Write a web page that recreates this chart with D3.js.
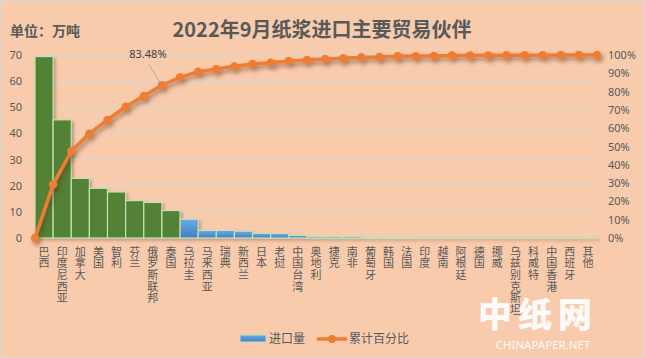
<!DOCTYPE html>
<html><head><meta charset="utf-8">
<script src="https://cdn.jsdelivr.net/npm/d3@7"></script>
<style>
html,body{margin:0;padding:0;background:#F8CBAD;}
svg{display:block;font-family:"Noto Sans CJK SC","Noto Sans",sans-serif;}
</style></head>
<body>
<svg id="chart" width="645" height="358"></svg>
<script>
const categories = ["巴西","印度尼西亚","加拿大","美国","智利","芬兰","俄罗斯联邦","泰国","乌拉圭","马来西亚","瑞典","新西兰","日本","老挝","中国台湾","奥地利","捷克","南非","葡萄牙","韩国","法国","印度","越南","阿根廷","德国","挪威","乌兹别克斯坦","科威特","中国香港","西班牙","其他"];
const importVolume = [69.4,45.2,22.8,19.0,17.6,14.3,13.6,10.5,7.2,2.9,2.9,2.6,1.8,1.7,1.0,0.6,0.6,0.6,0.3,0.3,0.3,0.1,0.1,0.1,0.1,0.1,0.1,0.1,0.1,0.1,0.15];
const cumulativePct = [0,29.3,47.5,57.0,64.5,71.7,77.6,83.48,87.8,90.9,92.3,93.8,95.1,95.8,96.7,97.3,97.8,98.2,98.7,98.9,99.3,99.4,99.5,99.7,99.75,99.8,99.85,99.9,99.93,99.96,99.98,100];
const leftTicks = [0,10,20,30,40,50,60,70];
const rightTicks = [0,10,20,30,40,50,60,70,80,90,100];
const greenCount = 8;
const title = "2022年9月纸浆进口主要贸易伙伴";
const unitLabel = "单位：万吨";
const calloutIndex = 7;
const calloutText = "83.48%";
const legendLabels = ["进口量","累计百分比"];

const svg = d3.select("#chart");
const W = 645, H = 358;
const x0 = 35, x1 = 597, yTop = 55, yBot = 238;

const defs = svg.append("defs");
const grad = defs.append("linearGradient").attr("id","blueGrad").attr("x1",0).attr("y1",0).attr("x2",0).attr("y2",1);
grad.append("stop").attr("offset","0%").attr("stop-color","#6DAAE0");
grad.append("stop").attr("offset","100%").attr("stop-color","#3F80C6");
const sh = defs.append("filter").attr("id","shadow").attr("x","-20%").attr("y","-20%").attr("width","140%").attr("height","140%");
sh.append("feDropShadow").attr("dx",2).attr("dy",2).attr("stdDeviation",1.5).attr("flood-color","#6b3a1a").attr("flood-opacity",0.35);
const sh2 = defs.append("filter").attr("id","lshadow").attr("x","-5%").attr("y","-20%").attr("width","110%").attr("height","160%");
sh2.append("feDropShadow").attr("dx",2).attr("dy",3).attr("stdDeviation",2).attr("flood-color","#5a2a10").attr("flood-opacity",0.5);

svg.append("rect").attr("x",0.5).attr("y",0.5).attr("width",W-1).attr("height",H-1)
  .attr("fill","#F8CBAD").attr("stroke","#d9d9d9");

const x = d3.scaleBand().domain(categories).range([x0,x1]).paddingInner(0).paddingOuter(0);
const xEdge = d3.scaleLinear().domain([0,categories.length]).range([x0,x1]);
const y = d3.scaleLinear().domain([0,70]).range([yBot,yTop]);
const yPct = d3.scaleLinear().domain([0,100]).range([yBot,yTop]);

// gridlines
svg.append("g").selectAll("line").data(leftTicks).join("line")
  .attr("x1",x0).attr("x2",x1).attr("y1",d=>y(d)).attr("y2",d=>y(d))
  .attr("stroke","#d9d9d9").attr("stroke-width",1);

// left axis
const la = svg.append("g").attr("transform",`translate(${x0},0)`)
  .call(d3.axisLeft(y).tickValues(leftTicks).tickSize(0).tickPadding(13));
la.select(".domain").remove();
la.selectAll("text").attr("fill","#595959").style("font-size","11px").style("font-family","'Noto Sans',sans-serif");

// right axis
const ra = svg.append("g").attr("transform",`translate(${x1},0)`)
  .call(d3.axisRight(yPct).tickValues(rightTicks).tickFormat(d=>d+"%").tickSize(0).tickPadding(11));
ra.select(".domain").remove();
ra.selectAll("text").attr("fill","#595959").style("font-size","11px").style("font-family","'Noto Sans',sans-serif");

// bars
svg.append("g").attr("filter","url(#shadow)").selectAll("rect").data(categories).join("rect")
  .attr("x",d=>x(d)).attr("width",x.bandwidth())
  .attr("y",(d,i)=>y(importVolume[i])).attr("height",(d,i)=>yBot-y(importVolume[i]))
  .attr("fill",(d,i)=>i<greenCount?"#538135":"url(#blueGrad)")
  .attr("stroke","#C5E0B4").attr("stroke-width",1.2);

// x labels (vertical stacked, upright)
svg.append("g").selectAll("text").data(categories).join("text")
  .attr("x",d=>x(d)+x.bandwidth()/2).attr("y",246)
  .attr("fill","#595959")
  .style("font-size","11px")
  .style("writing-mode","vertical-rl")
  .style("text-orientation","upright")
  .style("letter-spacing","0.7px")
  .text(d=>d);

// cumulative line
const line = d3.line().x((d,i)=>xEdge(i)).y(d=>yPct(d));
const lg = svg.append("g").attr("filter","url(#lshadow)");
lg.append("path").datum(cumulativePct).attr("d",line).attr("fill","none")
  .attr("stroke","#ED7D31").attr("stroke-width",3.5).attr("stroke-linejoin","round");
lg.selectAll("circle").data(cumulativePct).join("circle")
  .attr("cx",(d,i)=>xEdge(i)).attr("cy",d=>yPct(d)).attr("r",4.2).attr("fill","#ED7D31");

// callout
const cxp = xEdge(calloutIndex), cyp = yPct(cumulativePct[calloutIndex]);
svg.append("line").attr("x1",cxp-13).attr("y1",cyp-21).attr("x2",cxp-2).attr("y2",cyp-3)
  .attr("stroke","#9aa3ad").attr("stroke-width",0.8);
svg.append("text").attr("x",cxp-14).attr("y",cyp-27).attr("text-anchor","middle")
  .attr("fill","#404040").style("font-size","11px").style("font-family","'Noto Sans',sans-serif").text(calloutText);

// title
svg.append("text").attr("x",322).attr("y",37).attr("text-anchor","middle")
  .attr("fill","#595959").style("font-size","20px").style("font-weight","bold").text(title);
svg.append("text").attr("x",10).attr("y",36)
  .attr("fill","#595959").style("font-size","14px").style("font-weight","bold").text(unitLabel);

// legend
const leg = svg.append("g");
leg.append("rect").attr("x",240).attr("y",335).attr("width",26).attr("height",7)
  .attr("fill","url(#blueGrad)").attr("stroke","#C5E0B4").attr("stroke-width",1);
leg.append("text").attr("x",269).attr("y",343).attr("fill","#595959").style("font-size","12px").text(legendLabels[0]);
leg.append("line").attr("x1",317).attr("x2",347).attr("y1",339).attr("y2",339).attr("stroke","#ED7D31").attr("stroke-width",3.5);
leg.append("circle").attr("cx",332).attr("cy",339).attr("r",4).attr("fill","#ED7D31");
leg.append("text").attr("x",349).attr("y",343).attr("fill","#595959").style("font-size","12px").text(legendLabels[1]);

// watermark
svg.append("text").attr("x",538).attr("y",327).attr("text-anchor","middle")
  .attr("fill","#ffffff").attr("fill-opacity",0.95).style("font-size","34px").style("font-weight","900")
  .style("letter-spacing","6px").text("中纸网");
svg.append("text").attr("x",543).attr("y",349).attr("text-anchor","middle")
  .attr("fill","#ffffff").attr("fill-opacity",0.95).style("font-size","11.5px").style("font-family","'Noto Sans',sans-serif")
  .text("CHINAPAPER.NET");
</script>
</body></html>
